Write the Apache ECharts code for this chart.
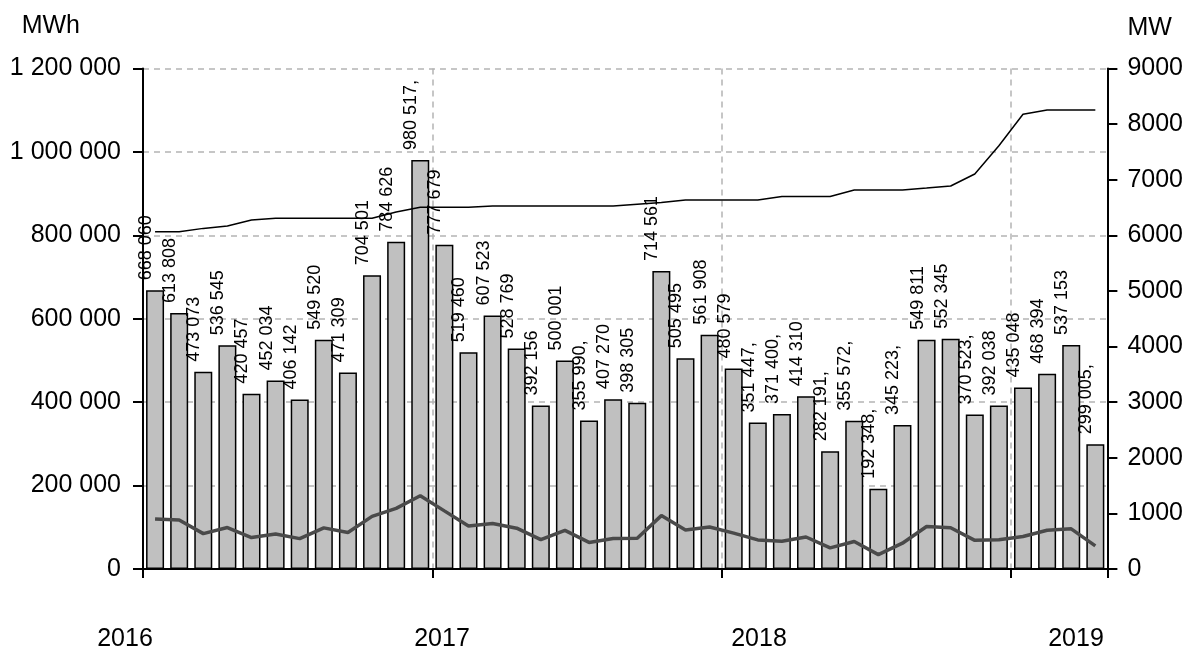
<!DOCTYPE html>
<html>
<head>
<meta charset="utf-8">
<script src="https://cdn.jsdelivr.net/npm/echarts@6/dist/echarts.min.js"></script>
<style>
html,body{margin:0;padding:0;background:#fff;}
#c{width:1186px;height:651px;}
</style>
</head>
<body>
<div id="c"></div>
<script>
// Months Jan 2016 .. Apr 2019
const months = [
 '2016-01','2016-02','2016-03','2016-04','2016-05','2016-06','2016-07','2016-08','2016-09','2016-10','2016-11','2016-12',
 '2017-01','2017-02','2017-03','2017-04','2017-05','2017-06','2017-07','2017-08','2017-09','2017-10','2017-11','2017-12',
 '2018-01','2018-02','2018-03','2018-04','2018-05','2018-06','2018-07','2018-08','2018-09','2018-10','2018-11','2018-12',
 '2019-01','2019-02','2019-03','2019-04'
];
// Monthly energy, MWh (bars, left axis)
const energyMWh = [
 668060,613808,473073,536545,420457,452034,406142,549520,471309,704501,784626,980517,
 777679,519460,607523,528769,392156,500001,355990,407270,398305,714561,505495,561908,
 480579,351447,371400,414310,282191,355572,192348,345223,549811,552345,370523,392038,
 435048,468394,537153,299005
];
// Average output, MW (thick grey line, right axis)
const avgMW = [
 898,882,636,745,565,628,546,739,655,947,1090,1318,
 1045,773,817,734,527,694,478,547,553,960,702,755,
 646,523,499,575,379,494,259,464,764,742,515,527,
 585,697,722,415
];
// Installed capacity, MW (thin black line, right axis)
const capacityMW = [
 6065,6065,6125,6168,6276,6306,6306,6306,6306,6306,6420,6504,
 6504,6504,6528,6528,6528,6528,6528,6528,6560,6590,6636,6636,
 6636,6636,6700,6700,6700,6815,6815,6815,6850,6887,7103,7610,
 8176,8254,8254,8254
];
// Data labels that carry a trailing comma in the original
const commaLabelIdx = [11,18,25,26,28,29,30,31,34,39];
const yearLabels = [2016, 2017, 2018, 2019];

const sp = v => String(v).replace(/\B(?=(\d{3})+(?!\d))/g, ' ');
const FONT = 'Liberation Sans, Arial, sans-serif';
const gridLine = {show:true, lineStyle:{color:'#b4b4b4', type:[6,5], width:1.5}};

const chart = echarts.init(document.getElementById('c'), null, {renderer:'canvas'});
chart.setOption({
  animation:false,
  backgroundColor:'#fff',
  grid:[
    {left:143, right:78, top:68.5, bottom:82, containLabel:false},
    {left:125, width:951, top:639, height:1, containLabel:false}
  ],
  xAxis:[
    {
      type:'category', data:months, gridIndex:0, boundaryGap:true,
      axisLine:{show:true, lineStyle:{color:'#000', width:2}},
      axisTick:{show:true, length:9, interval:(i)=>i%12===0, lineStyle:{color:'#000', width:2}},
      axisLabel:{show:false},
      splitLine:{show:true, interval:(i)=>i%12===0, lineStyle:{color:'#b4b4b4', type:[6,5], width:1.5}}
    },
    {
      type:'value', gridIndex:1, min:2016, max:2019, interval:1,
      axisLine:{show:false}, axisTick:{show:false}, splitLine:{show:false},
      axisLabel:{show:true, margin:0, formatter:(v)=> yearLabels.includes(v) ? String(v) : '',
        color:'#000', fontFamily:FONT, fontSize:25, verticalAlign:'middle'}
    }
  ],
  yAxis:[
    {
      type:'value', gridIndex:0, min:0, max:1200000, interval:200000,
      name:'MWh', nameLocation:'end', nameGap:30,
      nameTextStyle:{color:'#000', fontFamily:FONT, fontSize:25, align:'right', padding:[0,63,0,0]},
      axisLine:{show:true, lineStyle:{color:'#000', width:2}},
      axisTick:{show:true, length:10, lineStyle:{color:'#000', width:2}},
      axisLabel:{color:'#000', fontFamily:FONT, fontSize:25, margin:22, formatter:sp},
      splitLine:gridLine
    },
    {
      type:'value', gridIndex:0, min:0, max:9000, interval:1000, position:'right',
      name:'MW', nameLocation:'end', nameGap:28,
      nameTextStyle:{color:'#000', fontFamily:FONT, fontSize:25, align:'left', padding:[0,0,0,20]},
      axisLine:{show:true, lineStyle:{color:'#000', width:2}},
      axisTick:{show:true, length:10, lineStyle:{color:'#000', width:2}},
      axisLabel:{color:'#000', fontFamily:FONT, fontSize:25, margin:20, formatter:(v)=>String(v)},
      splitLine:{show:false}
    },
    {type:'value', gridIndex:1, show:false}
  ],
  series:[
    {
      type:'bar', name:'MWh', data:energyMWh, xAxisIndex:0, yAxisIndex:0,
      barWidth:18,
      itemStyle:{color:'#c0c0c0', borderColor:'#000', borderWidth:1.5},
      label:{
        show:true, position:'top', rotate:90, distance:8, offset:[2,-9],
        align:'left', verticalAlign:'middle',
        color:'#000', fontFamily:FONT, fontSize:18,
        formatter:(p)=> sp(p.value) + (commaLabelIdx.includes(p.dataIndex) ? ',' : '')
      },
      z:2
    },
    {
      type:'line', name:'Capacity', data:capacityMW, xAxisIndex:0, yAxisIndex:1,
      symbol:'none', lineStyle:{color:'#000', width:1.5}, z:3
    },
    {
      type:'line', name:'Average', data:avgMW, xAxisIndex:0, yAxisIndex:1,
      symbol:'none', lineStyle:{color:'#4a4a4a', width:3.5}, z:4
    }
  ]
});
</script>
</body>
</html>
